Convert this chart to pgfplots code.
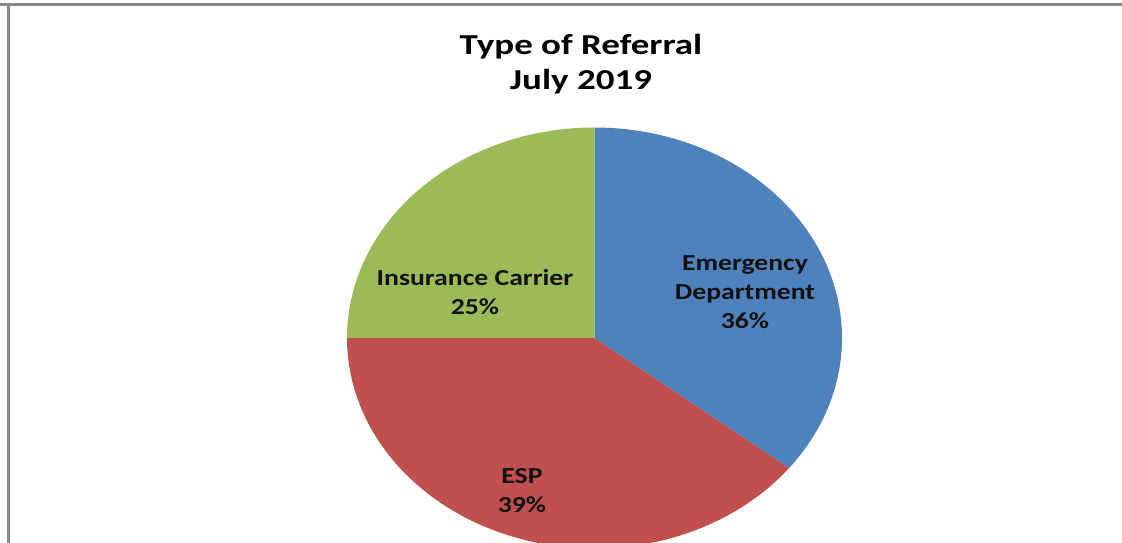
\documentclass[border=0pt]{standalone}
\usepackage{pgfplots}
\pgfplotsset{compat=1.18}
\usepackage{pgfplotstable}
\usepackage{fontspec}
\setmainfont{Carlito}
\newfontfamily\titlefont[FakeStretch=1.28]{Carlito}
\newfontfamily\labelfont[FakeStretch=1.21]{Carlito}

\definecolor{edblue}{HTML}{4F81BD}
\definecolor{espred}{HTML}{C0504D}
\definecolor{insgreen}{HTML}{9BBB59}
\definecolor{framegray}{HTML}{8A8A8A}
\definecolor{labeltext}{HTML}{111111}

% share of referrals, percent
\pgfplotstableread[col sep=comma]{
name,pct
Emergency Department,35.6
ESP,39.4
Insurance Carrier,25.0
}\referrals

\newcommand\pct[1]{\pgfmathprintnumber[fixed,precision=0,assume math mode=true]{#1}\%}

\begin{document}
\begin{tikzpicture}
  \pgfplotstablegetelem{0}{pct}\of\referrals \let\pED\pgfplotsretval
  \pgfplotstablegetelem{1}{pct}\of\referrals \let\pESP\pgfplotsretval
  \pgfplotstablegetelem{2}{pct}\of\referrals \let\pINS\pgfplotsretval
  % slices run clockwise from 12 o'clock
  \pgfmathsetmacro\aA{90}
  \pgfmathsetmacro\aB{\aA-3.6*\pED}
  \pgfmathsetmacro\aC{\aB-3.6*\pESP}
  \pgfmathsetmacro\aD{\aC-3.6*\pINS}
  \def\cx{594.5}\def\cy{205}\def\rx{247.5}\def\ry{210.5}

  \fill[white] (0,0) rectangle (561bp,271.5bp);
  \begin{axis}[
      name=pie,
      scale only axis,
      width=561bp, height=271.5bp,
      xmin=0, xmax=1122, ymin=0, ymax=543,
      hide axis,
      clip=true,
    ]
    \addplot[draw=none, fill=edblue, domain=\aB:\aA, samples=120, variable=\t]
      ({\cx+\rx*cos(t)}, {\cy+\ry*sin(t)}) -- (axis cs:\cx,\cy) -- cycle;
    \addplot[draw=none, fill=espred, domain=\aC:\aB, samples=120, variable=\t]
      ({\cx+\rx*cos(t)}, {\cy+\ry*sin(t)}) -- (axis cs:\cx,\cy) -- cycle;
    \addplot[draw=none, fill=insgreen, domain=\aD:\aC, samples=120, variable=\t]
      ({\cx+\rx*cos(t)}, {\cy+\ry*sin(t)}) -- (axis cs:\cx,\cy) -- cycle;

    % frame of the chart area
    \draw[framegray, line width=1.5bp] (axis cs:0,538.7) -- (axis cs:1122,538.7);
    \draw[framegray, line width=1.4bp] (axis cs:8.7,539.5) -- (axis cs:8.7,0);

    % title
    \node[align=center, text=black, font=\titlefont\fontsize{14.5}{17.8}\selectfont\bfseries]
      at (axis cs:581,479) {Type of Referral\\July 2019};

    % slice labels
    \begin{scope}[every node/.style={align=center, text=labeltext,
        font=\labelfont\fontsize{11.5}{14.5}\selectfont\bfseries}]
      \node at (axis cs:745,251) {Emergency\\Department\\\pct{\pED}};
      \node at (axis cs:522,52) {ESP\\\pct{\pESP}};
      \node at (axis cs:475,251) {Insurance Carrier\\\pct{\pINS}};
    \end{scope}
  \end{axis}
  \pgfresetboundingbox
  \path[use as bounding box] (pie.south west) rectangle (pie.north east);
\end{tikzpicture}
\end{document}
